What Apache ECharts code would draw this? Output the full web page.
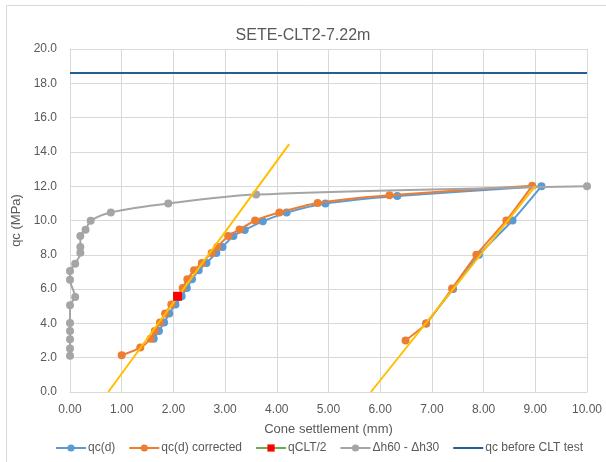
<!DOCTYPE html>
<html>
<head>
<meta charset="utf-8">
<style>
  html, body { margin: 0; padding: 0; background: #ffffff; }
  #chart { width: 606px; height: 462px; }
</style>
<script src="https://cdn.jsdelivr.net/npm/echarts@6/dist/echarts.min.js"></script>
</head>
<body>
<div id="chart"></div>
<script>
// Cone settlement (mm) and cone resistance qc (MPa) during the CLT at 7.22 m
const qcSettle = [1.62, 1.72, 1.82, 1.92, 2.04, 2.16, 2.26, 2.36, 2.49, 2.64, 2.83, 2.95, 3.16, 3.38, 3.73, 4.19, 4.94, 6.33, 9.12, 8.56, 7.91, 7.41, 6.89];
const qcValues = [3.1, 3.56, 4.05, 4.57, 5.1, 5.58, 6.07, 6.57, 7.1, 7.52, 8.11, 8.46, 9.1, 9.45, 9.95, 10.46, 10.99, 11.43, 12.0, 10.0, 8.0, 6.0, 4.0];

const corrSettle = [1.00, 1.36, 1.56, 1.64, 1.74, 1.84, 1.96, 2.08, 2.18, 2.27, 2.40, 2.55, 2.74, 2.85, 3.06, 3.28, 3.58, 4.05, 4.79, 6.18, 8.94, 8.44, 7.86, 7.39, 6.89, 6.49];
const corrValues = [2.14, 2.59, 3.1, 3.56, 4.05, 4.57, 5.1, 5.58, 6.07, 6.57, 7.1, 7.52, 8.11, 8.46, 9.1, 9.47, 10.0, 10.47, 11.02, 11.47, 12.02, 10.0, 8.0, 6.03, 3.99, 3.01];

const halfCltSettle = [2.08];
const halfCltValues = [5.58];

const dhSettle = [0, 0, 0, 0, 0, 0, 0.1, 0, 0, 0.1, 0.2, 0.2, 0.2, 0.3, 0.4, 0.79, 1.9, 3.6, 10.0];
const dhValues = [2.11, 2.54, 3.08, 3.56, 4.03, 5.06, 5.54, 6.55, 7.05, 7.48, 8.12, 8.45, 9.09, 9.46, 9.98, 10.47, 10.99, 11.51, 12.0];

const beforeSettle = [0, 10];
const beforeValues = [18.6, 18.6];

// straight fits through the loading and reloading branches
const loadFitSettle = [0.74, 4.24];
const loadFitValues = [0, 14.45];
const reloadFitSettle = [5.82, 9.0];
const reloadFitValues = [0, 12.0];

const xTicks = [0, 10, 1];
const yTicks = [0, 20, 2];

const pairs = (xs, ys) => xs.map((x, i) => [x, ys[i]]);

const FONT = 'Liberation Sans, Arial, sans-serif';
const TXT = '#595959';
const GRID = '#D9D9D9';
const BEFORE_COLOR = '#255E91';

const chart = echarts.init(document.getElementById('chart'), null, { renderer: 'canvas' });

chart.setOption({
  animation: false,
  backgroundColor: '#ffffff',
  textStyle: { fontFamily: FONT },
  title: {
    text: 'SETE-CLT2-7.22m',
    left: 'center',
    top: 23,
    textStyle: { fontFamily: FONT, fontSize: 16, fontWeight: 'normal', color: TXT }
  },
  graphic: [
    {
      type: 'rect',
      shape: { x: 6.5, y: 5.5, width: 640, height: 500 },
      style: { fill: 'none', stroke: GRID, lineWidth: 1 },
      silent: true,
      z: -1
    }
  ],
  grid: { left: 70, right: 19, top: 49, bottom: 70, containLabel: false },
  legend: {
    bottom: 3,
    left: 50,
    itemWidth: 30,
    itemHeight: 9,
    itemGap: 13,
    textStyle: { fontFamily: FONT, fontSize: 12, color: TXT, padding: [0, 0, 0, -3] },
    data: [
      'qc(d)',
      'qc(d) corrected',
      'qCLT/2',
      'Δh60 - Δh30',
      {
        name: 'qc before CLT test',
        itemStyle: { color: 'rgba(0,0,0,0)', borderWidth: 0 },
        lineStyle: { color: BEFORE_COLOR, opacity: 1 }
      }
    ]
  },
  xAxis: {
    type: 'value',
    min: xTicks[0],
    max: xTicks[1],
    interval: xTicks[2],
    name: 'Cone settlement (mm)',
    nameLocation: 'middle',
    nameGap: 31,
    nameTextStyle: { fontFamily: FONT, fontSize: 13, color: TXT },
    axisLine: { show: true, lineStyle: { color: GRID } },
    axisTick: { show: false },
    splitLine: { show: true, lineStyle: { color: GRID, width: 1 } },
    axisLabel: {
      margin: 12,
      color: TXT,
      fontFamily: FONT,
      fontSize: 12,
      formatter: v => v.toFixed(2)
    }
  },
  yAxis: {
    type: 'value',
    min: yTicks[0],
    max: yTicks[1],
    interval: yTicks[2],
    name: 'qc (MPa)',
    nameLocation: 'middle',
    nameGap: 44,
    nameRotate: 90,
    nameTextStyle: { fontFamily: FONT, fontSize: 13, color: TXT },
    axisLine: { show: true, lineStyle: { color: GRID } },
    axisTick: { show: false },
    splitLine: { show: true, lineStyle: { color: GRID, width: 1 } },
    axisLabel: {
      margin: 13,
      color: TXT,
      fontFamily: FONT,
      fontSize: 12,
      formatter: v => v.toFixed(1)
    }
  },
  series: [
    {
      name: 'qc(d)',
      type: 'line',
      data: pairs(qcSettle, qcValues),
      smooth: 0.2,
      symbol: 'circle',
      symbolSize: 8,
      lineStyle: { color: '#5B9BD5', width: 2 },
      itemStyle: { color: '#5B9BD5' },
      z: 2
    },
    {
      name: 'qc(d) corrected',
      type: 'line',
      data: pairs(corrSettle, corrValues),
      smooth: 0.2,
      symbol: 'circle',
      symbolSize: 8,
      lineStyle: { color: '#ED7D31', width: 2 },
      itemStyle: { color: '#ED7D31' },
      z: 3
    },
    {
      name: 'qCLT/2',
      type: 'line',
      data: pairs(halfCltSettle, halfCltValues),
      symbol: 'rect',
      symbolSize: 9,
      lineStyle: { color: '#70AD47', width: 2 },
      itemStyle: { color: '#FF0000' },
      z: 6
    },
    {
      name: 'Δh60 - Δh30',
      type: 'line',
      data: pairs(dhSettle, dhValues),
      smooth: 0.3,
      symbol: 'circle',
      symbolSize: 8,
      lineStyle: { color: '#A5A5A5', width: 2 },
      itemStyle: { color: '#A5A5A5' },
      z: 4
    },
    {
      name: 'qc before CLT test',
      type: 'line',
      data: pairs(beforeSettle, beforeValues),
      symbol: 'none',
      lineStyle: { color: BEFORE_COLOR, width: 2 },
      itemStyle: { color: BEFORE_COLOR },
      z: 4
    },
    {
      name: 'load fit',
      type: 'line',
      data: pairs(loadFitSettle, loadFitValues),
      symbol: 'none',
      lineStyle: { color: '#FFC000', width: 2 },
      itemStyle: { color: '#FFC000' },
      z: 5
    },
    {
      name: 'reload fit',
      type: 'line',
      data: pairs(reloadFitSettle, reloadFitValues),
      symbol: 'none',
      lineStyle: { color: '#FFC000', width: 2 },
      itemStyle: { color: '#FFC000' },
      z: 5
    }
  ]
});
</script>
</body>
</html>
